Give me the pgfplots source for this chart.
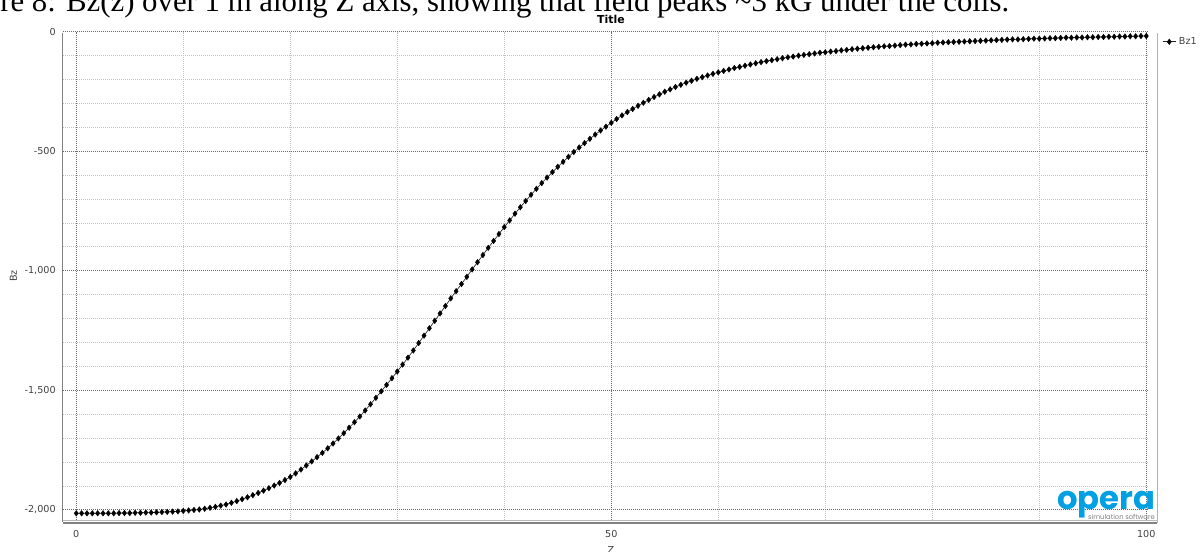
\documentclass[border=0pt]{standalone}
\usepackage{pgfplots}
\pgfplotsset{compat=1.18}
\usepackage{fontspec}
\setmainfont{DejaVu Sans}
\newfontfamily\capfont{Liberation Serif}
\newfontfamily\logofont{Poppins}
\definecolor{operablue}{RGB}{0,160,227}
\definecolor{majgrid}{RGB}{105,105,105}
\definecolor{mingrid}{RGB}{195,195,195}
\definecolor{axgray}{RGB}{130,130,130}
\begin{document}
\begin{tikzpicture}[x=0.75pt,y=0.75pt]
\path[use as bounding box] (0,0) rectangle (1202,552);
\clip (0,0) rectangle (1202,552);
\coordinate (axO) at (63,32);
\begin{axis}[
  at={(axO)}, anchor=south west,
  scale only axis, width=813.75pt, height=366.2pt,
  xmin=-1.24, xmax=100.16, ymin=-2042, ymax=0,
  xtick={0,50,100}, minor xtick={10,20,30,40,60,70,80,90},
  ytick={-2000,-1500,-1000,-500,0},
  minor ytick={-1900,-1800,-1700,-1600,-1400,-1300,-1200,-1100,-900,-800,-700,-600,-400,-300,-200,-100},
  grid=both,
  major grid style={line width=0.75pt, dash pattern=on 0.75pt off 0.75pt, majgrid},
  minor grid style={line width=0.75pt, dash pattern=on 0.75pt off 0.75pt, mingrid},
  major tick length=0pt, minor tick length=0pt,
  axis line style={draw=none},
  tick label style={font=\fontsize{7.2}{8}\selectfont, text=black!75},
  /pgf/number format/assume math mode=true,
  /pgf/number format/1000 sep={,},
  yticklabel style={xshift=-2pt},
  xticklabel style={yshift=-4.5pt},
  legend style={at={(axis description cs:1,1)}, anchor=north west, xshift=10.5pt, yshift=-2pt,
    draw=none, fill=none, inner sep=0pt, font=\fontsize{7.2}{8}\selectfont,
    legend cell align=left, nodes={text=black!75}},
  legend image code/.code={\draw[mark repeat=2,mark phase=2,#1] plot coordinates {(0pt,0pt) (5pt,0pt) (10pt,0pt)};},
]
\addplot[black!85, line width=0.5pt, mark=diamond*, mark size=2.1pt, mark options={fill=black, draw=black, line width=0.3pt}]
coordinates {
(0,-2014) (0.5,-2014) (1,-2014) (1.5,-2014) (2,-2014) (2.5,-2014) (3,-2014) (3.5,-2014) (4,-2013) (4.5,-2013)
(5,-2013) (5.5,-2012) (6,-2012) (6.5,-2011) (7,-2011) (7.5,-2010) (8,-2009) (8.5,-2008) (9,-2007) (9.5,-2006)
(10,-2004) (10.5,-2002) (11,-2000) (11.5,-1998) (12,-1995) (12.5,-1991) (13,-1987) (13.5,-1982) (14,-1977) (14.5,-1970)
(15,-1963) (15.5,-1955) (16,-1947) (16.5,-1938) (17,-1929) (17.5,-1919) (18,-1909) (18.5,-1898) (19,-1887) (19.5,-1875)
(20,-1862) (20.5,-1847) (21,-1831) (21.5,-1814) (22,-1797) (22.5,-1779) (23,-1761) (23.5,-1742) (24,-1722) (24.5,-1701)
(25,-1679) (25.5,-1656) (26,-1633) (26.5,-1609) (27,-1584) (27.5,-1558) (28,-1531) (28.5,-1504) (29,-1477) (29.5,-1449)
(30,-1421) (30.5,-1392) (31,-1363) (31.5,-1333) (32,-1302) (32.5,-1271) (33,-1240) (33.5,-1209) (34,-1178) (34.5,-1147)
(35,-1115) (35.5,-1085) (36,-1055) (36.5,-1025) (37,-994) (37.5,-964) (38,-934) (38.5,-904) (39,-875) (39.5,-846)
(40,-817) (40.5,-789) (41,-761) (41.5,-734) (42,-708) (42.5,-682) (43,-657) (43.5,-633) (44,-610) (44.5,-587)
(45,-565) (45.5,-544) (46,-523) (46.5,-503) (47,-484) (47.5,-466) (48,-448) (48.5,-430) (49,-413) (49.5,-397)
(50,-381) (50.5,-365) (51,-350) (51.5,-336) (52,-323) (52.5,-310) (53,-297) (53.5,-285) (54,-273) (54.5,-262)
(55,-251) (55.5,-241) (56,-231) (56.5,-222) (57,-213) (57.5,-205) (58,-197) (58.5,-190) (59,-183) (59.5,-176)
(60,-170) (60.5,-164) (61,-158) (61.5,-152) (62,-147) (62.5,-142) (63,-137) (63.5,-132) (64,-127) (64.5,-123)
(65,-119) (65.5,-115) (66,-111) (66.5,-107) (67,-104) (67.5,-100) (68,-97) (68.5,-94) (69,-91) (69.5,-88)
(70,-86) (70.5,-83) (71,-81) (71.5,-78) (72,-76) (72.5,-73) (73,-71) (73.5,-69) (74,-67) (74.5,-65)
(75,-63) (75.5,-61) (76,-60) (76.5,-58) (77,-56) (77.5,-54) (78,-53) (78.5,-51) (79,-50) (79.5,-49)
(80,-48) (80.5,-46) (81,-45) (81.5,-44) (82,-43) (82.5,-42) (83,-41) (83.5,-40) (84,-39) (84.5,-38)
(85,-37) (85.5,-36) (86,-35) (86.5,-34) (87,-33) (87.5,-32) (88,-32) (88.5,-31) (89,-30) (89.5,-29)
(90,-29) (90.5,-28) (91,-27) (91.5,-27) (92,-26) (92.5,-25) (93,-25) (93.5,-24) (94,-24) (94.5,-23)
(95,-23) (95.5,-22) (96,-22) (96.5,-21) (97,-21) (97.5,-20) (98,-20) (98.5,-19) (99,-19) (99.5,-18)
(100,-18)
};
\addlegendentry{Bz1}
\end{axis}
% axis frame lines
\draw[axgray, line width=0.9pt] (62.7,519) -- (62.7,30);
\draw[gray!55, line width=0.75pt] (63,31.3) -- (1157,31.3);
\draw[axgray, line width=0.9pt] (63,29) -- (1157,29);
\draw[gray!60, line width=0.75pt] (1157,519) -- (1157,29);
% logo
\node[anchor=base west, inner sep=0pt, text=operablue] at (1057,42)
  {\resizebox{73.5pt}{!}{\logofont\bfseries opera}};
\node[anchor=base east, inner sep=0pt, text=gray] at (1155,32.5)
  {\resizebox{50pt}{!}{\logofont simulation software}};
% texts
\node[anchor=base west, inner sep=0pt] at (0,540)
  {\capfont\fontsize{23.1}{26}\selectfont re 8: Bz(z) over 1 m along Z axis, showing that field peaks \textasciitilde3 kG under the coils.};
\node[inner sep=0pt, font=\bfseries\fontsize{8.2}{9}\selectfont] at (611,532.5) {Title};
\node[inner sep=0pt, rotate=90, font=\fontsize{7.2}{8}\selectfont, text=black!75] at (13.5,276) {Bz};
\node[inner sep=0pt, font=\fontsize{7.2}{8}\selectfont, text=black!75] at (611,1.5) {Z};
\end{tikzpicture}
\end{document}
